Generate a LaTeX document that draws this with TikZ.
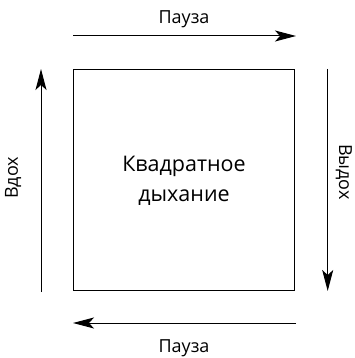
\documentclass[tikz,border=0pt]{standalone}
\usepackage{fontspec}
\setmainfont{Open Sans}
\usetikzlibrary{arrows.meta}
\begin{document}
\begin{tikzpicture}[x=1pt,y=-1pt,
  flow/.style={line width=1pt,-{Stealth[length=21pt,width=11pt,inset=5pt]}},
  lbl/.style={font=\fontsize{18}{20}\selectfont,inner sep=0pt},
  mid/.style={font=\fontsize{21.5}{30}\selectfont,inner sep=0pt,align=center}]
\useasboundingbox (0,0) rectangle (354,358);
% central square
\node[draw,line width=1pt,minimum width=221pt,minimum height=220.5pt,inner sep=0pt] (sq) at (184,179.75) {};
\node[mid] (t) at (184,181) {Квадратное\\дыхание};
% arrows around the square
\coordinate (ta) at (73,36);   \coordinate (tb) at (296,36);
\coordinate (ra) at (327.7,69); \coordinate (rb) at (327.7,291);
\coordinate (ba) at (296,323);  \coordinate (bb) at (73,323);
\coordinate (la) at (41,292);  \coordinate (lb) at (41,69);
\draw[flow] (ta) -- (tb);
\draw[flow] (ra) -- (rb);
\draw[flow] (ba) -- (bb);
\draw[flow] (la) -- (lb);
% labels
\node[lbl] (p1) at (184,19) {Пауза};
\node[lbl] (p2) at (184,348) {Пауза};
\node[lbl,rotate=90] (in) at (13,178) {Вдох};
\node[lbl,rotate=-90] (out) at (344,172) {Выдох};
\end{tikzpicture}
\end{document}
